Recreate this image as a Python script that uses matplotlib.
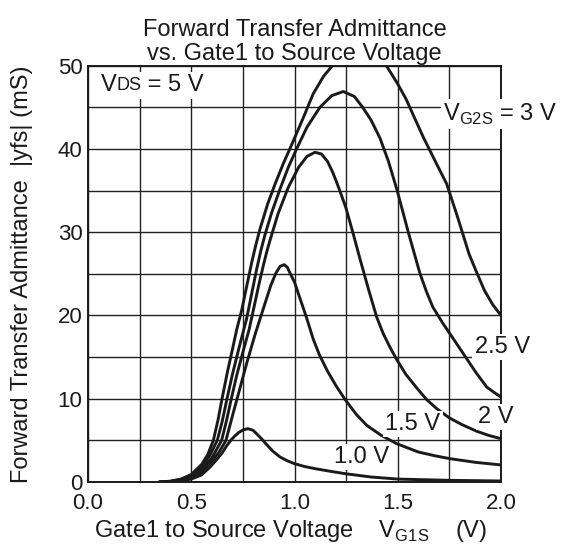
import matplotlib
matplotlib.use("Agg")
import matplotlib.pyplot as plt
from matplotlib.ticker import MultipleLocator

plt.rcParams['font.family'] = ['Liberation Sans', 'DejaVu Sans']
plt.rcParams['mathtext.fontset'] = 'custom'
plt.rcParams['mathtext.rm'] = 'Liberation Sans'

# V_G1S (V) / |yfs| (mS) pairs, one curve per V_G2S
vg1_3v = [0.35, 0.40, 0.45, 0.50, 0.55, 0.58, 0.607, 0.63, 0.649, 0.675, 0.70, 0.72,
          0.744, 0.77, 0.793, 0.813, 0.833, 0.87, 0.906, 0.945, 0.986, 1.04, 1.09,
          1.14, 1.19, 1.25, 1.31, 1.38, 1.44, 1.50, 1.54, 1.58, 1.624, 1.68, 1.737,
          1.79, 1.845, 1.88, 1.92, 1.96, 2.0]
yfs_3v = [0.0, 0.1, 0.35, 0.9, 2.1, 3.3, 5.0, 7.5, 10.0, 13.2, 16.0, 18.3,
          20.6, 23.7, 26.4, 28.5, 30.4, 33.4, 35.8, 38.2, 40.5, 43.6, 46.6,
          48.7, 50.2, 51.8, 52.4, 51.8, 50.2, 47.8, 46.0, 43.8, 41.4, 38.6, 35.8,
          31.8, 27.4, 25.3, 23.0, 21.3, 20.0]

vg1_25v = [0.35, 0.40, 0.45, 0.50, 0.55, 0.59, 0.626, 0.65, 0.673, 0.70, 0.73, 0.767,
           0.79, 0.817, 0.837, 0.857, 0.89, 0.93, 0.97, 1.01, 1.06, 1.123, 1.18, 1.236,
           1.29, 1.33, 1.37, 1.414, 1.455, 1.495, 1.551, 1.608, 1.64, 1.67, 1.72, 1.78,
           1.834, 1.88, 1.931, 1.97, 2.0]
yfs_25v = [0.0, 0.08, 0.3, 0.8, 1.8, 3.2, 5.0, 7.3, 10.0, 13.0, 16.0, 19.5,
           22.3, 25.6, 27.8, 29.7, 32.4, 35.2, 37.8, 40.0, 42.6, 45.0, 46.4, 46.9,
           46.3, 45.0, 43.5, 41.3, 38.5, 35.2, 30.0, 25.0, 22.8, 21.0, 19.0, 16.8,
           14.8, 13.1, 11.4, 10.7, 10.2]

vg1_2v = [0.35, 0.40, 0.45, 0.50, 0.55, 0.60, 0.647, 0.67, 0.694, 0.72, 0.75, 0.78,
          0.809, 0.83, 0.849, 0.865, 0.881, 0.92, 0.97, 1.02, 1.06, 1.099, 1.13, 1.16,
          1.185, 1.204, 1.225, 1.248, 1.28, 1.317, 1.36, 1.398, 1.43, 1.462, 1.495,
          1.54, 1.592, 1.64, 1.689, 1.75, 1.81, 1.882, 1.94, 2.0]
yfs_2v = [0.0, 0.06, 0.25, 0.65, 1.5, 2.9, 5.0, 7.3, 10.0, 12.8, 15.6, 18.3,
          21.6, 24.0, 26.0, 27.6, 29.0, 32.2, 35.4, 37.8, 39.1, 39.6, 39.4, 38.5,
          37.2, 36.0, 34.6, 33.0, 30.2, 26.8, 23.0, 19.8, 17.8, 16.2, 14.7,
          12.9, 11.3, 9.9, 8.8, 7.7, 6.9, 6.1, 5.6, 5.2]

vg1_15v = [0.35, 0.40, 0.45, 0.50, 0.55, 0.60, 0.635, 0.668, 0.70, 0.735, 0.77, 0.81,
           0.85, 0.885, 0.91, 0.93, 0.95, 0.965, 0.98, 1.0, 1.03, 1.06, 1.09,
           1.12, 1.16, 1.2, 1.245, 1.3, 1.35, 1.42, 1.495, 1.6, 1.68, 1.753, 1.88, 2.0]
yfs_15v = [0.0, 0.05, 0.2, 0.5, 1.2, 2.5, 3.6, 5.0, 8.0, 11.2, 14.4, 17.8,
           20.9, 23.6, 25.1, 25.9, 26.1, 25.8, 25.0, 24.0, 21.8, 19.6, 17.2,
           15.3, 13.3, 11.6, 9.9, 8.1, 6.8, 5.6, 4.6, 3.6, 3.15, 2.8, 2.35, 2.05]

vg1_1v = [0.35, 0.40, 0.45, 0.50, 0.55, 0.591, 0.62, 0.65, 0.67, 0.691, 0.71, 0.73,
          0.755, 0.776, 0.80, 0.82, 0.84, 0.865, 0.895, 0.93, 0.965, 1.0, 1.05, 1.1,
          1.17, 1.245, 1.37, 1.5, 1.75, 2.0]
yfs_1v = [0.0, 0.04, 0.12, 0.35, 0.85, 1.8, 2.6, 3.5, 4.3, 5.0, 5.5, 5.95,
          6.3, 6.4, 6.2, 5.7, 5.2, 4.5, 3.7, 3.0, 2.55, 2.2, 1.85, 1.6,
          1.3, 1.0, 0.6, 0.35, 0.2, 0.12]

x_ticks = [0.0, 0.5, 1.0, 1.5, 2.0]
y_ticks = [0, 10, 20, 30, 40, 50]

ink = '#1a1a1a'
fig = plt.figure(figsize=(5.69, 5.53), dpi=100)
ax = fig.add_axes([0.1547, 0.1284, 0.7258, 0.7528])

for xs, ys in [(vg1_3v, yfs_3v), (vg1_25v, yfs_25v), (vg1_2v, yfs_2v),
               (vg1_15v, yfs_15v), (vg1_1v, yfs_1v)]:
    ax.plot(xs, ys, color=ink, lw=2.1, zorder=3, solid_joinstyle='round')

ax.set_xlim(0, 2.0)
ax.set_ylim(0, 50)
ax.set_xticks(x_ticks)
ax.set_xticklabels(['%.1f' % t for t in x_ticks])
ax.set_yticks(y_ticks)
ax.xaxis.set_minor_locator(MultipleLocator(0.25))
ax.yaxis.set_minor_locator(MultipleLocator(5))
ax.grid(True, which='both', color='#222222', lw=1.0, zorder=1)
ax.tick_params(which='both', length=0, labelsize=16, colors=ink)
ax.tick_params(axis='x', pad=8)
ax.tick_params(axis='y', pad=4)
for s in ax.spines.values():
    s.set_linewidth(1.4)
    s.set_color(ink)
    s.set_zorder(2)

ax.set_title('Forward Transfer Admittance\nvs. Gate1 to Source Voltage',
             fontsize=17, color=ink, pad=4, linespacing=1.12)
ax.set_xlabel(r'Gate1 to Source Voltage    V$_{\mathregular{G1S}}$    (V)',
              fontsize=17, color=ink, va='center')
ax.xaxis.set_label_coords(0.49, -0.118)
ax.set_ylabel('Forward Transfer Admittance  |yfs| (mS)', fontsize=17,
              color=ink, va='center')
ax.yaxis.set_label_coords(-0.16, 0.5)

box = dict(facecolor='white', edgecolor='none', pad=1.5)
# V_DS note in three pieces so "DS" can be smaller; the last one hides the grid line
tv = ax.text(0.06, 47.7, 'V', fontsize=17, va='center', ha='left',
             zorder=5, color=ink)
tds = ax.annotate('DS', xy=(1, 0), xycoords=tv, xytext=(0, 1.2),
                  textcoords='offset points', fontsize=13, va='bottom',
                  ha='left', zorder=5, color=ink)
ax.annotate(' = 5 V', xy=(1, 0), xycoords=tds, xytext=(0, -1.6),
            textcoords='offset points', fontsize=17, va='bottom', ha='left',
            bbox=box, zorder=4, color=ink)
ax.text(1.72, 44.2, r'V$_{\mathregular{G2S}}$ = 3 V', fontsize=17, va='center',
        ha='left', bbox=box, zorder=4, clip_on=False, color=ink)
ax.text(1.872, 16.2, '2.5 V', fontsize=17, va='center', ha='left', bbox=box,
        zorder=4, clip_on=False, color=ink)
ax.text(1.89, 7.8, '2 V', fontsize=17, va='center', ha='left', bbox=box,
        zorder=4, clip_on=False, color=ink)
ax.text(1.44, 7.0, '1.5 V', fontsize=17, va='center', ha='left', bbox=box,
        zorder=4, color=ink)
ax.text(1.19, 3.0, '1.0 V', fontsize=17, va='center', ha='left', bbox=box,
        zorder=4, color=ink)

fig.savefig('out.png', dpi=100, facecolor='white')
